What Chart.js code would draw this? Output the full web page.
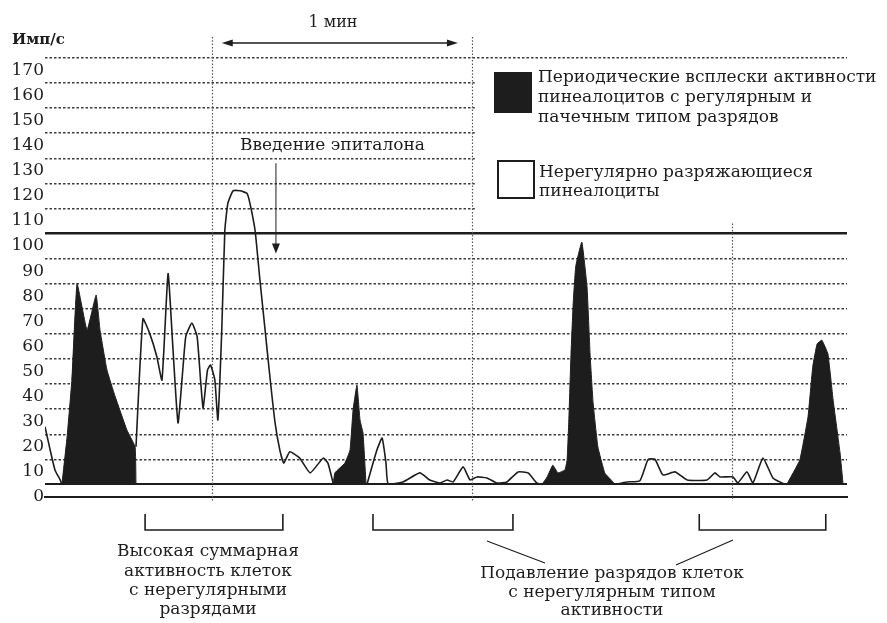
<!DOCTYPE html>
<html lang="ru">
<head>
<meta charset="utf-8">
<title>Импульсная активность пинеалоцитов</title>
<script src="https://cdn.jsdelivr.net/npm/chart.js@4.4.0/dist/chart.umd.min.js"></script>
<style>
  html, body { margin: 0; padding: 0; background: #fff; }
  #wrap { width: 887px; height: 623px; }
</style>
</head>
<body>
<div id="wrap"><canvas id="chart" width="887" height="623"></canvas></div>
<script>
// Pinealocyte firing rate (Имп/с) over time, seconds; 1 мин = 60 s

const yTickLabels = [0, 10, 20, 30, 40, 50, 60, 70, 80, 90, 100, 110, 120, 130, 140, 150, 160, 170];
const gridLevels = [5, 15, 25, 35, 45, 55, 65, 75, 85, 95, 105, 115, 125, 135, 145, 155, 165, 175];
const baselineLevel = 5;
const thresholdLevel = 105;

// irregularly firing cells (white trace), null = hidden under a burst
const irregularTime = [0, 1.2, 2.3, 3.5, 3.9, 12,
  21.0, 22.6, 24.2, 25.8, 27.0, 28.4, 29.5, 30.7, 31.8, 32.5, 33.9, 35.1, 35.9, 36.5, 37.5, 38.2, 39.2, 39.9,
  40.8, 41.5, 42.2, 43.4, 45.0, 46.6, 47.3, 48.5, 49.6, 50.8, 51.9, 53.1, 54.2, 55.1, 56.5, 58.8, 61.2, 64.2, 65.3, 66.5, 70,
  74.3, 76.6, 77.8, 78.7, 79.2, 82.6, 86.5, 88.8, 91.2, 92.8, 94.2, 96.5, 98.1, 99.7, 102.0, 104.3, 106.6, 109.2, 111.5, 113.5, 114.7, 123,
  131.5, 134.3, 137.3, 139.2, 140.8, 142.6, 145.4, 148.2, 152.8, 154.6, 155.8, 158.8, 159.9, 162.0, 163.4, 165.7, 168.0, 170.1, 171.2];
const irregularRate = [28, 18.7, 10.8, 6.8, 5, null,
  20, 71, 65, 56, 46.6, 89, 60, 29.5, 50.6, 64, 69.3, 64, 46.6, 35.5, 50.6, 52.6, 46.6, 30.7,
  66.5, 106, 117, 122, 122, 121, 117, 106, 86.5, 66.5, 48, 29.5, 18.7, 13.5, 18, 15.5, 9.6, 15.5, 13.5, 5.5, null,
  5, 18.7, 23.5, 13.5, 5.2, 6, 9.6, 6.8, 5.6, 6.8, 6, 12, 6.8, 8, 7.6, 5.6, 6, 10, 9.6, 5.6, 5, null,
  5, 6, 6.5, 15, 15, 8.8, 10, 6.8, 6.8, 9.6, 8, 8, 5.6, 10, 5.6, 15.5, 7.6, 5.6, 5];

// periodic bursts of regular / bursting cells (black areas)
const burstTime = [3.9, 5.1, 6.2, 7.4, 9.7, 11.8, 12.7, 14.3, 16.2, 18.9, 20.8, 21.0, 40,
  66.5, 66.9, 69.2, 70.4, 71.1, 72.0, 72.7, 73.4, 74.1, 90,
  114.7, 115.9, 117.2, 118.4, 120.0, 120.5, 120.9, 121.4, 121.9, 122.5, 123.9, 125.1, 125.8, 126.5, 127.6, 129.2, 131.1, 131.5, 150,
  171.2, 174.2, 176.1, 177.2, 178.2, 179.3, 180.7, 181.9, 183.5, 184.2];
const burstRate = [5, 24, 46.6, 85, 66.5, 80.5, 66.5, 50.6, 40, 26.7, 20, 5, null,
  5, 9.6, 13.5, 18.7, 34.7, 44.6, 30.7, 25.5, 5, null,
  5, 8, 12.7, 9.6, 10.8, 14.7, 30.7, 57, 77, 92, 101.6, 83.7, 57, 37.5, 20, 9.6, 6, 5, null,
  5, 14.7, 32, 52, 61, 62.5, 57, 38.6, 17.5, 5];

// one-minute marks (vertical dotted lines) and where each one starts
const minuteMarks = [38.5, 98.5, 158.5];
const minuteMarkTops = [183.3, 183.3, 109];

const legendLabels = [
  ['Периодические всплески активности', 'пинеалоцитов с регулярным и', 'пачечным типом разрядов'],
  ['Нерегулярно разряжающиеся', 'пинеалоциты']
];
const captionHigh = ['Высокая суммарная', 'активность клеток', 'с нерегулярными', 'разрядами'];
const captionSuppressed = ['Подавление разрядов клеток', 'с нерегулярным типом', 'активности'];
const brackets = [[23.1, 54.9], [75.7, 108.0], [151.0, 180.2]];

const INK = '#1d1d1d';
const SERIF = "'DejaVu Serif', 'Liberation Serif', serif";
const X_MIN = 0, X_MAX = 185.1, Y_MAX = 183.3;

const toPoints = (ts, vs) => ts.map((t, i) => ({ x: t, y: vs[i] }));
const yStops = [...yTickLabels, ...gridLevels].sort((a, b) => a - b);

function arrowHead(ctx, x, y, angle, len, half) {
  ctx.save();
  ctx.translate(x, y);
  ctx.rotate(angle);
  ctx.beginPath();
  ctx.moveTo(0, 0);
  ctx.lineTo(-len, -half);
  ctx.lineTo(-len, half);
  ctx.closePath();
  ctx.fill();
  ctx.restore();
}

const minuteLines = {
  id: 'minuteLines',
  beforeDatasetsDraw(chart) {
    const { ctx, scales: { x, y }, chartArea } = chart;
    ctx.save();
    // legend panel: the grid is left out behind it
    ctx.fillStyle = '#fff';
    const lx = x.getPixelForValue(minuteMarks[1]) + 3;
    ctx.fillRect(lx, y.getPixelForValue(171), chartArea.right - lx + 2, y.getPixelForValue(110) - y.getPixelForValue(171));

    ctx.strokeStyle = '#555';
    ctx.lineWidth = 1.2;
    ctx.setLineDash([1.5, 1.8]);
    minuteMarks.forEach((t, i) => {
      const px = Math.round(x.getPixelForValue(t)) + 0.5;
      ctx.beginPath();
      ctx.moveTo(px, y.getPixelForValue(minuteMarkTops[i]));
      ctx.lineTo(px, chartArea.bottom + 4);
      ctx.stroke();
    });
    ctx.restore();
  }
};

const annotations = {
  id: 'annotations',
  afterDraw(chart) {
    const { ctx, scales: { x, y } } = chart;
    ctx.save();
    ctx.fillStyle = INK;
    ctx.strokeStyle = INK;
    ctx.textBaseline = 'middle';

    // axis unit
    ctx.font = `bold 15px ${SERIF}`;
    ctx.textAlign = 'left';
    ctx.fillText('Имп/с', 12, 40);

    // 1 min arrow
    const a0 = x.getPixelForValue(40.8), a1 = x.getPixelForValue(95.3);
    ctx.lineWidth = 1.6;
    ctx.beginPath();
    ctx.moveTo(a0 + 6, 43);
    ctx.lineTo(a1 - 6, 43);
    ctx.stroke();
    arrowHead(ctx, a0, 43, Math.PI, 11, 3.5);
    arrowHead(ctx, a1, 43, 0, 11, 3.5);
    ctx.font = `16px ${SERIF}`;
    ctx.textAlign = 'center';
    ctx.fillText('1 мин', 333, 23);

    // injection
    ctx.textAlign = 'left';
    ctx.font = `17px ${SERIF}`;
    ctx.fillText('Введение эпиталона', 240, 146);
    const ix = x.getPixelForValue(53.3);
    const iTop = y.getPixelForValue(133), iTip = y.getPixelForValue(97);
    ctx.lineWidth = 1;
    ctx.beginPath();
    ctx.moveTo(ix, iTop);
    ctx.lineTo(ix, iTip - 8);
    ctx.stroke();
    arrowHead(ctx, ix, iTip, Math.PI / 2, 10, 4);

    // legend
    ctx.fillRect(494, 72, 38, 41);
    ctx.lineWidth = 2;
    ctx.strokeRect(498, 161, 36, 37);
    ctx.font = `17px ${SERIF}`;
    legendLabels[0].forEach((s, i) => ctx.fillText(s, 538, 78 + i * 20));
    legendLabels[1].forEach((s, i) => ctx.fillText(s, 539, 173 + i * 19));

    // brackets under the time axis
    ctx.lineWidth = 1.6;
    brackets.forEach(([t0, t1]) => {
      const b0 = x.getPixelForValue(t0), b1 = x.getPixelForValue(t1);
      ctx.beginPath();
      ctx.moveTo(b0, 514);
      ctx.lineTo(b0, 530);
      ctx.lineTo(b1, 530);
      ctx.lineTo(b1, 514);
      ctx.stroke();
    });
    ctx.lineWidth = 1.2;
    ctx.beginPath();
    ctx.moveTo(487, 541); ctx.lineTo(545, 563);
    ctx.moveTo(733, 540); ctx.lineTo(676, 565);
    ctx.stroke();

    ctx.textAlign = 'center';
    ctx.font = `17px ${SERIF}`;
    captionHigh.forEach((s, i) => ctx.fillText(s, 208, 552 + i * 19.3));
    captionSuppressed.forEach((s, i) => ctx.fillText(s, 612, 574 + i * 18.5));
    ctx.restore();
  }
};

new Chart(document.getElementById('chart'), {
  type: 'line',
  data: {
    datasets: [
      {
        label: legendLabels[0].join(' '),
        data: toPoints(burstTime, burstRate),
        borderColor: INK,
        backgroundColor: INK,
        borderWidth: 1,
        pointRadius: 0,
        tension: 0.1,
        spanGaps: false,
        fill: { value: baselineLevel },
      },
      {
        label: legendLabels[1].join(' '),
        data: toPoints(irregularTime, irregularRate),
        borderColor: INK,
        borderWidth: 1.6,
        pointRadius: 0,
        tension: 0.15,
        spanGaps: false,
        fill: false,
      },
    ],
  },
  options: {
    responsive: false,
    animation: false,
    devicePixelRatio: 1,
    layout: { padding: { left: 0, right: 40, top: 37, bottom: 126 } },
    plugins: { legend: { display: false }, tooltip: { enabled: false } },
    scales: {
      x: {
        type: 'linear', min: X_MIN, max: X_MAX,
        grid: { display: false, drawTicks: false },
        ticks: { display: false },
        border: { display: true, color: INK, width: 2 },
      },
      y: {
        type: 'linear', min: 0, max: Y_MAX,
        afterBuildTicks: axis => { axis.ticks = yStops.map(v => ({ value: v })); },
        afterFit: axis => { axis.width = 45; },
        ticks: {
          autoSkip: false,
          padding: 1,
          color: INK,
          font: { family: SERIF, size: 17 },
          callback: v => yTickLabels.includes(v) ? String(v) : '',
        },
        grid: {
          drawTicks: false,
          color: c => gridLevels.includes(c.tick.value) ? (c.tick.value === thresholdLevel || c.tick.value === baselineLevel ? INK : '#3c3c3c') : 'rgba(0,0,0,0)',
          lineWidth: c => c.tick.value === thresholdLevel ? 2.4 : c.tick.value === baselineLevel ? 2 : 1.4,
        },
        border: {
          display: false,
          dash: c => (c.tick && (c.tick.value === thresholdLevel || c.tick.value === baselineLevel)) ? [] : [2.5, 2],
        },
      },
    },
  },
  plugins: [minuteLines, annotations],
});
</script>
</body>
</html>
